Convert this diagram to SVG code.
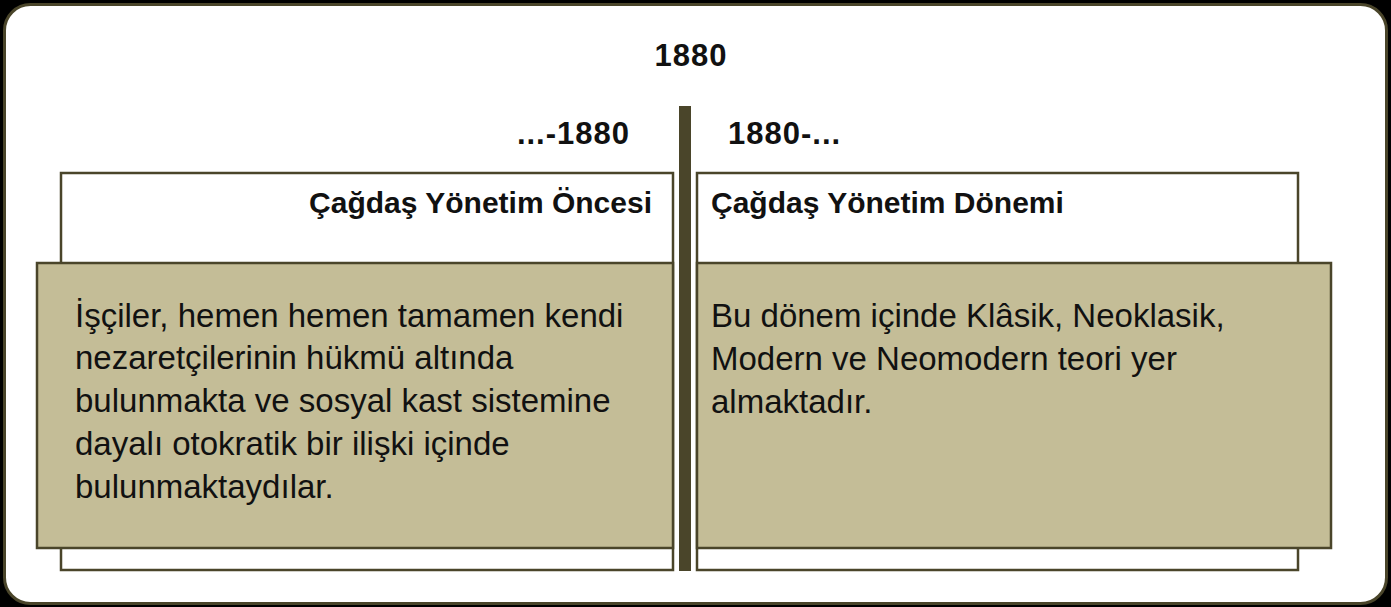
<svg xmlns="http://www.w3.org/2000/svg" width="1391" height="607" viewBox="0 0 1391 607">
<style>
.box{stroke:#4a452a;stroke-width:2.5}
.white{fill:#ffffff}
.tan{fill:#c4bd97}
.t{font-family:"Liberation Sans",Arial,sans-serif;fill:#111111}
.b{font-weight:bold;font-size:30px}
.y{font-weight:bold;font-size:31px;letter-spacing:1px}
.body{font-size:33px}
</style>
<rect x="0" y="0" width="1391" height="607" fill="#000000"/>
<rect x="4.5" y="4.5" width="1382" height="599" rx="26" ry="26" fill="#ffffff" stroke="#4a452a" stroke-width="3"/>
<text class="t y" x="691" y="66" text-anchor="middle">1880</text>
<text class="t y" x="630" y="144" text-anchor="end">...-1880</text>
<text class="t y" x="728" y="144">1880-...</text>
<g id="left">
<rect class="box white" x="61" y="173" width="612" height="397"/>
<text class="t b" x="652" y="213" text-anchor="end">Çağdaş Yönetim Öncesi</text>
<rect class="box tan" x="37" y="263" width="636" height="285"/>
<text class="t body" x="75" y="327">İşçiler, hemen hemen tamamen kendi</text>
<text class="t body" x="75" y="369">nezaretçilerinin hükmü altında</text>
<text class="t body" x="75" y="412">bulunmakta ve sosyal kast sistemine</text>
<text class="t body" x="75" y="455">dayalı otokratik bir ilişki içinde</text>
<text class="t body" x="75" y="498">bulunmaktaydılar.</text>
</g>
<g id="right">
<rect class="box white" x="697" y="173" width="601" height="397"/>
<text class="t b" x="711" y="213">Çağdaş Yönetim Dönemi</text>
<rect class="box tan" x="697" y="263" width="634" height="285"/>
<text class="t body" x="711" y="327">Bu dönem içinde Klâsik, Neoklasik,</text>
<text class="t body" x="711" y="370">Modern ve Neomodern teori yer</text>
<text class="t body" x="711" y="413">almaktadır.</text>
</g>
<g id="connectors">
<rect x="679" y="106" width="12" height="465" fill="#4a452a"/>
</g>
</svg>
